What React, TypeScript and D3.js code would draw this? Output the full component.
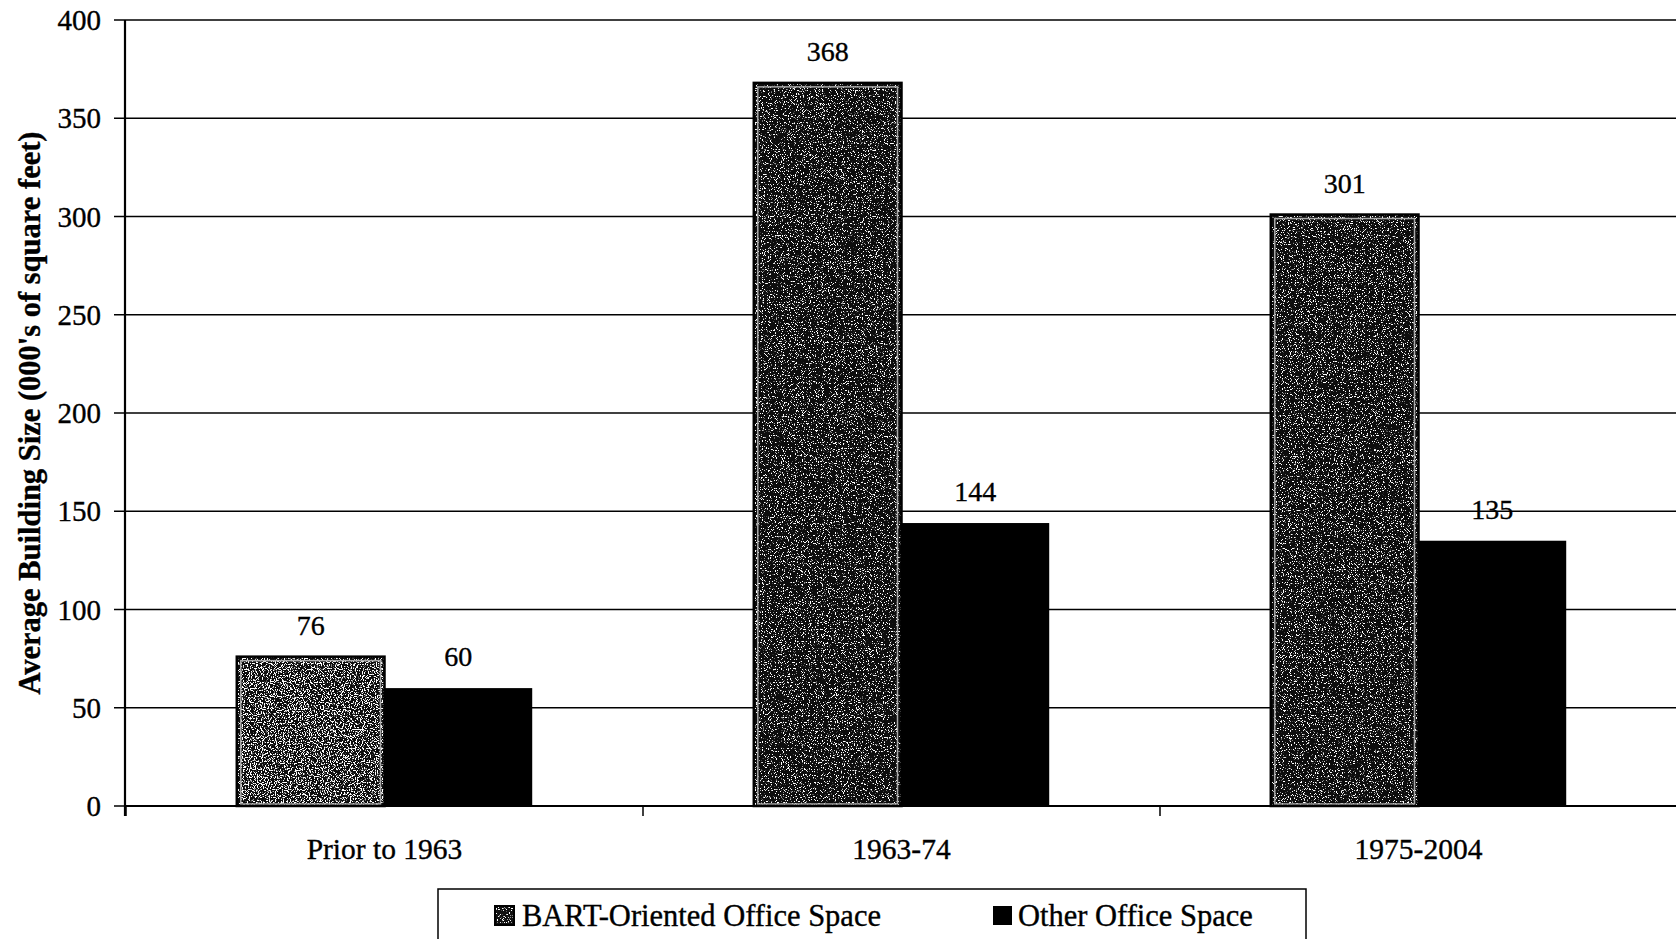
import React from "react";
import * as d3 from "d3";

const categories = ["Prior to 1963", "1963-74", "1975-2004"];
const seriesNames = ["BART-Oriented Office Space", "Other Office Space"];
const bartValues = [76, 368, 301];
const otherValues = [60, 144, 135];
const yTicks = [0, 50, 100, 150, 200, 250, 300, 350, 400];
const yTitle = "Average Building Size (000's of square feet)";

const W = 1676;
const H = 939;
const FONT = "'Liberation Serif', 'Times New Roman', serif";
const TXT = { fontFamily: FONT, fill: "#000", stroke: "#000", strokeWidth: 0.35 } as const;

export default function App() {
  const left = 126;
  const right = 1677;
  const top = 20;
  const bottom = 806;
  const y = d3.scaleLinear().domain([0, 400]).range([bottom, top]);
  const x = d3.scaleBand().domain(categories).range([left, right]).paddingInner(0).paddingOuter(0);
  const bw = x.bandwidth() / 3.5;

  const boundaries = categories.map((c) => x(c) as number);

  return (
    <div style={{ position: "fixed", left: 0, top: 0, width: W, height: H, background: "#fff" }}>
      <svg width={W} height={H} style={{ display: "block" }}>
        <defs>
          <filter id="speckle" x="0" y="0" width="100%" height="100%" filterUnits="objectBoundingBox">
            <feTurbulence type="fractalNoise" baseFrequency="0.85" numOctaves="2" seed="7" result="noise" />
            <feColorMatrix
              in="noise"
              type="matrix"
              values="0 0 0 0 1  0 0 0 0 1  0 0 0 0 1  14 0 0 0 -8.3"
            />
          </filter>
          <filter id="speckleLight" x="0" y="0" width="100%" height="100%" filterUnits="objectBoundingBox">
            <feTurbulence type="fractalNoise" baseFrequency="0.85" numOctaves="2" seed="3" result="noise" />
            <feColorMatrix
              in="noise"
              type="matrix"
              values="0 0 0 0 1  0 0 0 0 1  0 0 0 0 1  14 0 0 0 -7.4"
            />
          </filter>
        </defs>

        {/* gridlines */}
        {yTicks.map((t) => (
          <line key={"g" + t} x1={left - 12} x2={right} y1={y(t)} y2={y(t)} stroke="#000" strokeWidth={1.4} />
        ))}

        {/* y tick labels */}
        {yTicks.map((t) => (
          <text key={"yl" + t} x={101} y={y(t) + 10} textAnchor="end" fontSize={29} {...TXT}>
            {t}
          </text>
        ))}

        {/* bars */}
        {categories.map((c, i) => {
          const cx = (x(c) as number) + x.bandwidth() / 2;
          const bx = cx - bw;
          const by = y(bartValues[i]);
          const bh = bottom - by;
          const ox = cx;
          const oy = y(otherValues[i]);
          const oh = bottom - oy;
          return (
            <g key={c}>
              <rect x={bx} y={by} width={bw} height={bh} fill="#0d0d0d" />
              <rect
                x={bx}
                y={by}
                width={bw}
                height={bh}
                fill="#fff"
                filter={i === 0 ? "url(#speckleLight)" : "url(#speckle)"}
              />
              <rect x={bx + 4} y={by + 4} width={bw - 8} height={bh - 6} fill="none" stroke="#aaa" strokeWidth={1.5} />
              <rect x={bx} y={by} width={bw} height={bh} fill="none" stroke="#000" strokeWidth={2.5} />
              <rect x={ox} y={oy} width={bw} height={oh} fill="#000" />
              <text x={bx + bw / 2} y={by - 22} textAnchor="middle" fontSize={28} {...TXT}>
                {bartValues[i]}
              </text>
              <text x={ox + bw / 2} y={oy - 22} textAnchor="middle" fontSize={28} {...TXT}>
                {otherValues[i]}
              </text>
            </g>
          );
        })}

        {/* x axis line */}
        <line x1={left} x2={right} y1={bottom} y2={bottom} stroke="#000" strokeWidth={2} />
        {/* x category ticks */}
        {boundaries.map((b, i) => (
          <line key={"xt" + i} x1={b} x2={b} y1={bottom} y2={bottom + 10} stroke="#000" strokeWidth={1.5} />
        ))}
        {/* y axis line */}
        <line x1={left - 1} x2={left - 1} y1={top} y2={bottom + 10} stroke="#000" strokeWidth={2.2} />

        {/* category labels */}
        {categories.map((c) => (
          <text
            key={"cl" + c}
            x={(x(c) as number) + x.bandwidth() / 2}
            y={859}
            textAnchor="middle"
            fontSize={29.5}
            {...TXT}
          >
            {c}
          </text>
        ))}

        {/* y axis title */}
        <text
          transform={`translate(40, ${(top + bottom) / 2}) rotate(-90)`}
          textAnchor="middle"
          fontSize={30.5}
          fontWeight="bold"
          {...TXT}
        >
          {yTitle}
        </text>

        {/* legend */}
        <rect x={438} y={889} width={868} height={100} fill="#fff" stroke="#000" strokeWidth={1.5} />
        <rect x={495} y={906} width={19} height={19} fill="#111" />
        <rect x={495} y={906} width={19} height={19} fill="#fff" filter="url(#speckle)" />
        <rect x={495} y={906} width={19} height={19} fill="none" stroke="#000" strokeWidth={2} />
        <text x={522} y={926} fontSize={30.5} {...TXT}>
          {seriesNames[0]}
        </text>
        <rect x={993} y={906} width={19} height={19} fill="#000" />
        <text x={1018} y={926} fontSize={30.5} {...TXT}>
          {seriesNames[1]}
        </text>
      </svg>
    </div>
  );
}
